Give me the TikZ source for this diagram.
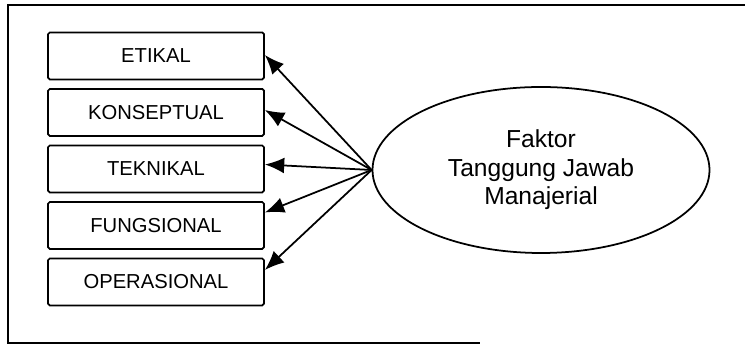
\documentclass[tikz,border=0pt]{standalone}
\usepackage{fontspec}
\setmainfont{Liberation Sans}
\usetikzlibrary{arrows.meta,shapes.geometric}
\tikzset{
  kotak/.style={draw, line width=1pt, rounded corners=1pt, minimum width=4.32cm, minimum height=0.94cm, font=\fontsize{11.5}{13}\selectfont},
  faktor/.style={draw, ellipse, line width=1pt, minimum width=6.74cm, minimum height=3.32cm, inner sep=0pt, align=center, font=\fontsize{14}{16.2}\selectfont}
}
\begin{document}
\begin{tikzpicture}[>={Latex[length=11pt,width=9pt]}]
\useasboundingbox (0,0) rectangle (14.9,6.94);
\draw[line width=1.1pt] (14.9,6.84)--(0.16,6.84)--(0.16,0.08)--(9.6,0.08);

\foreach \i/\t in {1/ETIKAL,2/KONSEPTUAL,3/TEKNIKAL,4/FUNGSIONAL,5/OPERASIONAL}
{
    \node[kotak] (k\i) at (3.12,{5.82-1.13*(\i-1)}) {\t};
}

\node[faktor] (f) at (10.82,3.54) {Faktor\\Tanggung Jawab\\Manajerial};

\foreach \i/\s in {1/0.02,2/0.05,3/0.09,4/0.26,5/0.24}
{
    \draw[->, line width=1pt] (f.west)--([yshift=\s cm]k\i.east);
}
\end{tikzpicture}
\end{document}
